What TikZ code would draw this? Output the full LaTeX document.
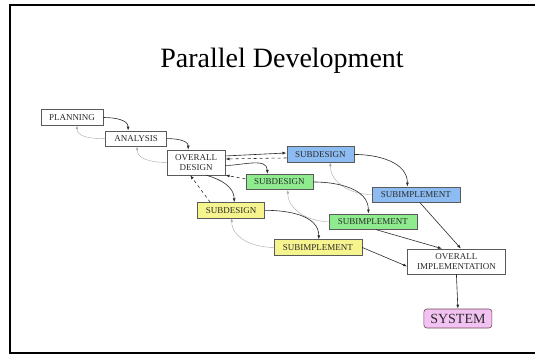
\documentclass[tikz,border=0pt]{standalone}
\usepackage{fontspec}
\setmainfont{Liberation Serif}
\usepackage{tikz}
\usetikzlibrary{arrows.meta,positioning}
\definecolor{pdblue}{HTML}{8CBCF2}
\definecolor{pdgreen}{HTML}{8EEB8E}
\definecolor{pdyellow}{HTML}{F6F48E}
\definecolor{pdpink}{HTML}{F2C2F2}
\definecolor{pdedge}{HTML}{5A5A5A}
\definecolor{pddark}{HTML}{2A2A2A}
\definecolor{pdgray}{HTML}{A8A8A8}
\tikzset{
  box/.style={draw=pdedge,line width=0.6pt,fill=white,align=center,inner sep=1pt,font=\fontsize{9}{10}\selectfont,text=pddark,minimum height=15.5pt},
  phase/.style={box,minimum width=62pt},
  twoline/.style={box,minimum height=25pt},
  sdblue/.style={box,fill=pdblue,minimum width=67pt},
  sdgreen/.style={box,fill=pdgreen,minimum width=67pt},
  sdyellow/.style={box,fill=pdyellow,minimum width=67pt},
  siblue/.style={sdblue,minimum width=88pt},
  sigreen/.style={sdgreen,minimum width=88pt},
  siyellow/.style={sdyellow,minimum width=88pt},
  sysbox/.style={box,rounded corners=3pt,fill=pdpink,draw=pdedge!80!purple,font=\fontsize{14}{15}\selectfont,minimum width=68pt,minimum height=19pt},
  ar/.style={-{Latex[length=4pt,width=3pt]},draw=pddark,line width=0.6pt},
  back/.style={-{Latex[length=3.5pt,width=2.5pt]},draw=pdgray,line width=0.4pt},
  ret/.style={ar,dashed},
}

\begin{document}
\begin{tikzpicture}[x=1pt,y=1pt]
  \useasboundingbox (0,0) rectangle (535,-354);
  \draw[line width=1.5pt] (535,-5) -- (10,-5) -- (10,-353) -- (535,-353);
  \node[font=\fontsize{28}{30}\selectfont] (title) at (282,-61) {Parallel Development};

  \node[phase] (plan) at (72,-117.5) {PLANNING};
  \node[phase,below right=5pt and 2pt of plan,minimum width=61pt] (ana) {ANALYSIS};
  \node[twoline,below right=3pt and 0pt of ana,minimum width=58pt] (odes) {OVERALL\\DESIGN};
  \node[sdblue,right=61pt of odes,yshift=8pt] (sdb) {SUBDESIGN};
  \node[sdgreen,right=20pt of odes,yshift=-19.5pt] (sdg) {SUBDESIGN};
  \node[sdyellow,below=27pt of odes,xshift=35pt] (sdy) {SUBDESIGN};
  \node[siblue,below right=24pt and 17.5pt of sdb] (sib) {SUBIMPLEMENT};
  \node[sigreen,below right=23.5pt and 15.5pt of sdg] (sig) {SUBIMPLEMENT};
  \node[siyellow,below right=21pt and 8.5pt of sdy] (siy) {SUBIMPLEMENT};
  \node[twoline,below=46pt of sib,xshift=40.5pt,minimum width=98pt] (oimp) {OVERALL\\IMPLEMENTATION};
  \node[sysbox,below=34.5pt of oimp,xshift=1.5pt] (sys) {SYSTEM};

  % waterfall steps
  \draw[ar] (plan.east) to[out=0,in=90] ([xshift=-8pt]ana.north);
  \draw[back] (ana.west) to[out=180,in=-90] ([xshift=5pt]plan.south);
  \draw[ar] (ana.east) to[out=0,in=90] ([xshift=-8pt]odes.north);
  \draw[back] (odes.west) to[out=180,in=-90] ([xshift=1pt]ana.south);

  % design split
  \draw[ar] ([yshift=6.5pt]odes.east) -- ([yshift=1.5pt]sdb.west);
  \draw[ret] ([yshift=-3.5pt]sdb.west) -- ([yshift=3.5pt]odes.east);
  \draw[ar] ([yshift=-3pt]odes.east) to[out=0,in=90] ([xshift=-12pt]sdg.north);
  \draw[ret] ([yshift=3pt]sdg.west) -- (odes.south east);
  \draw[ar] ([xshift=10pt]odes.south) to[out=-15,in=90] ([xshift=3pt]sdy.north);
  \draw[ret] ([xshift=-21pt]sdy.north) -- ([xshift=-6pt]odes.south);

  % sub-projects
  \draw[ar] (sdb.east) to[out=0,in=90] ([xshift=-8.5pt]sib.north);
  \draw[back] (sib.west) to[out=180,in=-90] ([xshift=10pt]sdb.south);
  \draw[ar] (sdg.east) to[out=0,in=90] ([xshift=-4.5pt]sig.north);
  \draw[back] (sig.west) to[out=180,in=-90] ([xshift=8.5pt]sdg.south);
  \draw[ar] (sdy.east) to[out=0,in=90] ([xshift=1pt]siy.north);
  \draw[back] (siy.west) to[out=180,in=-90] ([xshift=0.5pt]sdy.south);

  % merge
  \draw[ar] ([xshift=4pt]sib.south) -- ([xshift=4.5pt]oimp.north);
  \draw[ar] ([xshift=3pt]sig.south) -- ([xshift=-14.5pt]oimp.north);
  \draw[ar] (siy.east) -- ([yshift=-5pt]oimp.west);
  \draw[ar] (oimp.south) -- (sys.north);
\end{tikzpicture}
\end{document}
